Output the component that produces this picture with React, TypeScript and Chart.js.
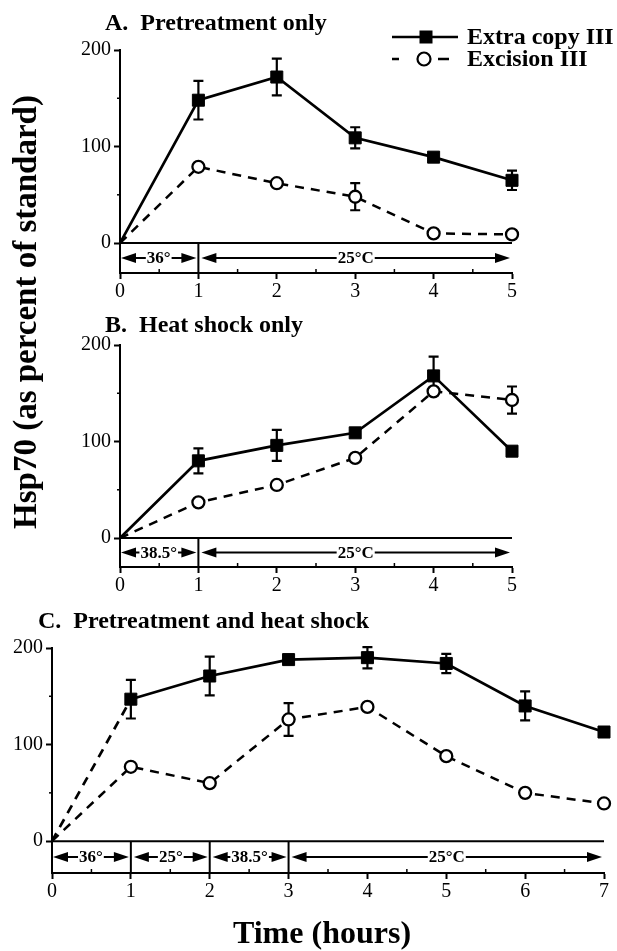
import React, { useEffect, useRef } from 'react';
import { Chart, registerables } from 'chart.js';

Chart.register(...registerables);

const FONT = '"Liberation Serif", "Times New Roman", Times, serif';

// ---- data ----
const hoursAB = [0, 1, 2, 3, 4, 5];
const hoursC = [0, 1, 2, 3, 4, 5, 6, 7];

const extraA = [0, 148, 172, 109, 89, 65];
const extraAErr = [0, 20, 19, 11, 0, 10];
const excisionA = [0, 79, 62, 48, 10, 9];
const excisionAErr = [0, 0, 0, 14, 0, 0];

const extraB = [0, 80, 96, 109, 168, 90];
const extraBErr = [0, 13, 16, 0, 20, 0];
const excisionB = [0, 37, 55, 83, 152, 143];
const excisionBErr = [0, 0, 0, 0, 0, 14];

const extraC = [0, 147, 171, 188, 190, 184, 140, 113];
const extraCErr = [0, 20, 20, 0, 11, 10, 15, 0];
const excisionC = [0, 77, 60, 126, 139, 88, 50, 39];
const excisionCErr = [0, 0, 0, 17, 0, 0, 0, 0];

const yTickValues = [0, 100, 200];
const yMinorTicks = [50, 150];

const bandA = [
  { from: 0, to: 1, label: '36°' },
  { from: 1, to: 5, label: '25°C' },
];
const bandB = [
  { from: 0, to: 1, label: '38.5°' },
  { from: 1, to: 5, label: '25°C' },
];
const bandC = [
  { from: 0, to: 1, label: '36°' },
  { from: 1, to: 2, label: '25°' },
  { from: 2, to: 3, label: '38.5°' },
  { from: 3, to: 7, label: '25°C' },
];

const legendLabels = ['Extra copy III', 'Excision III'];
const titleA = 'A.  Pretreatment only';
const titleB = 'B.  Heat shock only';
const titleC = 'C.  Pretreatment and heat shock';
const yAxisTitle = 'Hsp70 (as percent of standard)';
const xAxisTitle = 'Time (hours)';

type Band = { from: number; to: number; label: string };
type PanelSpec = {
  hours: number[];
  extra: number[];
  extraErr: number[];
  excision: number[];
  excisionErr: number[];
  band: Band[];
  yMin: number;
  xMax: number;
  dashFirst: boolean;
  legend: boolean;
  width: number;
  height: number;
  padding: { left: number; right: number; top: number; bottom: number };
};

function arrowHead(ctx: CanvasRenderingContext2D, tipX: number, y: number, dir: number) {
  const L = 15;
  const H = 5;
  ctx.beginPath();
  ctx.moveTo(tipX, y);
  ctx.lineTo(tipX - dir * L, y - H);
  ctx.lineTo(tipX - dir * L, y + H);
  ctx.closePath();
  ctx.fill();
}

function makeDecorPlugin(spec: PanelSpec) {
  return {
    id: 'decor',
    beforeDatasetsDraw(chart: any) {
      const ctx: CanvasRenderingContext2D = chart.ctx;
      const xs = chart.scales.x;
      const ys = chart.scales.y;
      const ca = chart.chartArea;
      ctx.save();
      ctx.strokeStyle = '#000';
      ctx.fillStyle = '#000';
      ctx.lineWidth = 2;
      const y0 = ys.getPixelForValue(0);
      // zero line
      ctx.beginPath();
      ctx.moveTo(xs.getPixelForValue(0), y0);
      ctx.lineTo(xs.getPixelForValue(spec.xMax), y0);
      ctx.stroke();
      // dividers
      spec.band.forEach((b) => {
        if (b.from > 0) {
          const x = xs.getPixelForValue(b.from);
          ctx.beginPath();
          ctx.moveTo(x, y0);
          ctx.lineTo(x, ca.bottom);
          ctx.stroke();
        }
      });
      // arrows
      const ym = (y0 + ca.bottom) / 2;
      ctx.font = `bold 17px ${FONT}`;
      ctx.textAlign = 'center';
      ctx.textBaseline = 'middle';
      spec.band.forEach((b) => {
        const x1 = xs.getPixelForValue(b.from) + (b.from === 0 ? 1 : 3);
        const x2 = xs.getPixelForValue(b.to) - 2;
        const cx = (x1 + x2) / 2;
        const w = ctx.measureText(b.label).width;
        ctx.lineWidth = 2;
        ctx.beginPath();
        ctx.moveTo(x1 + 6, ym);
        ctx.lineTo(cx - w / 2 - 1, ym);
        ctx.moveTo(cx + w / 2 + 1, ym);
        ctx.lineTo(x2 - 6, ym);
        ctx.stroke();
        arrowHead(ctx, x1, ym, -1);
        arrowHead(ctx, x2, ym, 1);
        ctx.fillText(b.label, cx, ym + 1);
      });
      // minor ticks
      ctx.lineWidth = 1.5;
      yMinorTicks.forEach((v) => {
        const y = ys.getPixelForValue(v);
        ctx.beginPath();
        ctx.moveTo(ca.left, y);
        ctx.lineTo(ca.left - 3, y);
        ctx.stroke();
      });
      for (let h = 0.5; h < spec.xMax; h += 1) {
        const x = xs.getPixelForValue(h);
        ctx.beginPath();
        ctx.moveTo(x, ca.bottom);
        ctx.lineTo(x, ca.bottom - 4);
        ctx.stroke();
      }
      // error bars
      ctx.lineWidth = 2.2;
      const drawErr = (vals: number[], errs: number[]) => {
        vals.forEach((v, i) => {
          const e = errs[i];
          if (!e) return;
          const x = xs.getPixelForValue(spec.hours[i]);
          const yt = ys.getPixelForValue(v + e);
          const yb = ys.getPixelForValue(v - e);
          ctx.beginPath();
          ctx.moveTo(x, yt);
          ctx.lineTo(x, yb);
          ctx.moveTo(x - 5, yt);
          ctx.lineTo(x + 5, yt);
          ctx.moveTo(x - 5, yb);
          ctx.lineTo(x + 5, yb);
          ctx.stroke();
        });
      };
      drawErr(spec.extra, spec.extraErr);
      drawErr(spec.excision, spec.excisionErr);
      ctx.restore();
    },
    afterDraw(chart: any) {
      if (!spec.legend) return;
      const ctx: CanvasRenderingContext2D = chart.ctx;
      ctx.save();
      ctx.strokeStyle = '#000';
      ctx.fillStyle = '#000';
      // row 1: solid line + filled square
      const r1 = 37;
      ctx.lineWidth = 2.6;
      ctx.beginPath();
      ctx.moveTo(392, r1);
      ctx.lineTo(458, r1);
      ctx.stroke();
      ctx.fillRect(426 - 6.5, r1 - 6.5, 13, 13);
      // row 2: dashes + open circle
      const r2 = 59;
      ctx.beginPath();
      ctx.moveTo(392, r2);
      ctx.lineTo(399, r2);
      ctx.moveTo(438, r2);
      ctx.lineTo(449, r2);
      ctx.stroke();
      ctx.lineWidth = 2.2;
      ctx.beginPath();
      ctx.arc(424, r2, 6.5, 0, Math.PI * 2);
      ctx.fillStyle = '#fff';
      ctx.fill();
      ctx.stroke();
      ctx.fillStyle = '#000';
      ctx.font = `bold 24px ${FONT}`;
      ctx.textAlign = 'left';
      ctx.textBaseline = 'middle';
      ctx.fillText(legendLabels[0], 467, r1 + 1);
      ctx.fillText(legendLabels[1], 467, r2 + 1);
      ctx.restore();
    },
  };
}

function Panel({ spec, style }: { spec: PanelSpec; style: React.CSSProperties }) {
  const ref = useRef<HTMLCanvasElement | null>(null);
  useEffect(() => {
    if (!ref.current) return;
    const tickFont = { family: FONT, size: 20 };
    const chart = new Chart(ref.current, {
      type: 'line',
      data: {
        datasets: [
          {
            label: legendLabels[0],
            data: spec.hours.map((h, i) => ({ x: h, y: spec.extra[i] })),
            borderColor: '#000',
            borderWidth: 2.7,
            borderDash: [],
            segment: {
              borderDash: (c: any) => (spec.dashFirst && c.p0DataIndex === 0 ? [9, 7] : undefined),
            },
            pointStyle: 'rect',
            pointRadius: (c: any) => (c.dataIndex === 0 ? 0 : 8.5),
            pointBackgroundColor: '#000',
            pointBorderColor: '#000',
            pointBorderWidth: 1,
            tension: 0,
            clip: false,
            order: 1,
          } as any,
          {
            label: legendLabels[1],
            data: spec.hours.map((h, i) => ({ x: h, y: spec.excision[i] })),
            borderColor: '#000',
            borderWidth: 2.5,
            borderDash: [9, 7],
            pointStyle: 'circle',
            pointRadius: (c: any) => (c.dataIndex === 0 ? 0 : 6),
            pointBackgroundColor: '#fff',
            pointBorderColor: '#000',
            pointBorderWidth: 2.3,
            tension: 0,
            clip: false,
            order: 0,
          } as any,
        ],
      },
      options: {
        animation: false,
        responsive: false,
        events: [],
        layout: { padding: spec.padding },
        plugins: { legend: { display: false }, tooltip: { enabled: false } },
        scales: {
          x: {
            type: 'linear',
            min: 0,
            max: spec.xMax,
            afterBuildTicks: (s: any) => {
              s.ticks = spec.hours.map((v) => ({ value: v }));
            },
            afterFit: (s: any) => {
              s.height = 30;
              s.paddingLeft = 0;
              s.paddingRight = 0;
            },
            grid: {
              drawOnChartArea: false,
              drawTicks: true,
              tickLength: 6,
              tickWidth: 2,
              tickColor: '#000',
              color: '#000',
            },
            border: { display: true, color: '#000', width: 2 },
            ticks: { color: '#000', font: tickFont, padding: 1, maxRotation: 0, autoSkip: false },
          },
          y: {
            type: 'linear',
            min: spec.yMin,
            max: 200,
            afterBuildTicks: (s: any) => {
              s.ticks = yTickValues.map((v) => ({ value: v }));
            },
            afterFit: (s: any) => {
              s.width = 40;
              s.paddingTop = 0;
              s.paddingBottom = 0;
            },
            grid: {
              drawOnChartArea: false,
              drawTicks: true,
              tickLength: 6,
              tickWidth: 2,
              tickColor: '#000',
              color: '#000',
            },
            border: { display: true, color: '#000', width: 2 },
            ticks: { color: '#000', font: tickFont, padding: 3 },
          },
        },
      } as any,
      plugins: [makeDecorPlugin(spec)],
    });
    return () => chart.destroy();
  }, [spec]);
  return (
    <canvas
      ref={ref}
      width={spec.width}
      height={spec.height}
      style={{ position: 'absolute', width: spec.width, height: spec.height, ...style }}
    />
  );
}

const specA: PanelSpec = {
  hours: hoursAB,
  extra: extraA,
  extraErr: extraAErr,
  excision: excisionA,
  excisionErr: excisionAErr,
  band: bandA,
  yMin: -31,
  xMax: 5,
  dashFirst: false,
  legend: true,
  width: 617,
  height: 305,
  padding: { left: 80, right: 105, top: 50, bottom: 2 },
};
const specB: PanelSpec = {
  hours: hoursAB,
  extra: extraB,
  extraErr: extraBErr,
  excision: excisionB,
  excisionErr: excisionBErr,
  band: bandB,
  yMin: -30,
  xMax: 5,
  dashFirst: false,
  legend: false,
  width: 617,
  height: 295,
  padding: { left: 80, right: 105, top: 40, bottom: 3 },
};
const specC: PanelSpec = {
  hours: hoursC,
  extra: extraC,
  extraErr: extraCErr,
  excision: excisionC,
  excisionErr: excisionCErr,
  band: bandC,
  yMin: -33,
  xMax: 7,
  dashFirst: true,
  legend: false,
  width: 617,
  height: 320,
  padding: { left: 12, right: 13, top: 48, bottom: 17 },
};

const titleStyle: React.CSSProperties = {
  position: 'absolute',
  fontFamily: FONT,
  fontWeight: 'bold',
  fontSize: 24,
  lineHeight: '24px',
  whiteSpace: 'pre',
  color: '#000',
};

export default function App() {
  return (
    <div
      style={{
        position: 'absolute',
        left: 0,
        top: 0,
        width: 617,
        height: 951,
        background: '#fff',
        overflow: 'hidden',
      }}
    >
      <Panel spec={specA} style={{ left: 0, top: 0 }} />
      <Panel spec={specB} style={{ left: 0, top: 305 }} />
      <Panel spec={specC} style={{ left: 0, top: 600 }} />
      <div style={{ ...titleStyle, left: 105, top: 10 }}>{titleA}</div>
      <div style={{ ...titleStyle, left: 105, top: 312 }}>{titleB}</div>
      <div style={{ ...titleStyle, left: 38, top: 608 }}>{titleC}</div>
      <div
        style={{
          position: 'absolute',
          left: 24.5 - 260,
          top: 312 - 17,
          width: 520,
          height: 34,
          lineHeight: '34px',
          fontSize: 33,
          fontWeight: 'bold',
          fontFamily: FONT,
          textAlign: 'center',
          whiteSpace: 'nowrap',
          transform: 'rotate(-90deg)',
          color: '#000',
        }}
      >
        {yAxisTitle}
      </div>
      <div
        style={{
          position: 'absolute',
          left: 322 - 150,
          top: 932 - 16,
          width: 300,
          height: 32,
          lineHeight: '32px',
          fontSize: 32,
          fontWeight: 'bold',
          fontFamily: FONT,
          textAlign: 'center',
          whiteSpace: 'nowrap',
          color: '#000',
        }}
      >
        {xAxisTitle}
      </div>
    </div>
  );
}
